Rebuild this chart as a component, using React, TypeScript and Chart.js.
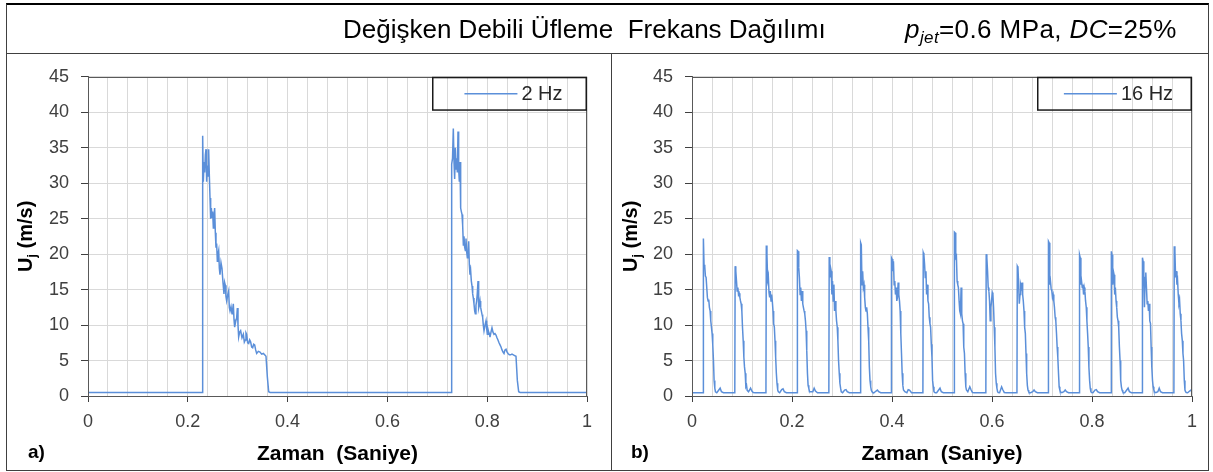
import React, { useEffect, useRef } from 'react';
import { Chart, registerables } from 'chart.js';

Chart.register(...registerables);

const FONT = "'Liberation Sans', Arial, Helvetica, sans-serif";
const LINE_COLOR = '#5B8FD9';

// ---------- 2 Hz panel data (time in s, velocity in m/s) ----------
const time2Hz: number[] = [
  0, 0.2285,
  0.2298, 0.2311, 0.2325, 0.2338, 0.2352, 0.2365, 0.2378, 0.2392, 0.2405, 0.2418,
  0.2432, 0.2445, 0.2458, 0.2472, 0.2485, 0.2498, 0.2512, 0.2525, 0.2538, 0.2552,
  0.2565, 0.2578, 0.2592, 0.2605, 0.2619, 0.2632, 0.2645, 0.2665, 0.2685, 0.2705,
  0.2725, 0.2738, 0.2752, 0.2765, 0.2779, 0.2799, 0.2819, 0.2832, 0.2846, 0.2866,
  0.2886, 0.2899, 0.2912, 0.2926, 0.2939, 0.2959, 0.2979, 0.2993, 0.3006, 0.3019,
  0.3039, 0.3059, 0.3086, 0.3113, 0.3133, 0.3153, 0.3166, 0.3179, 0.32, 0.322,
  0.324, 0.326, 0.328, 0.33, 0.332, 0.334, 0.336, 0.338, 0.3414, 0.3447,
  0.348, 0.3514, 0.354, 0.3567, 0.3594, 0.3621, 0.365,
  0.7275,
  0.7288, 0.7305, 0.7321, 0.7335, 0.7348, 0.7361, 0.7375, 0.7388, 0.7401, 0.7415,
  0.7428, 0.7442, 0.7455, 0.7468, 0.7482, 0.7495, 0.7508, 0.7522, 0.7535, 0.7548,
  0.7562, 0.7575, 0.7589, 0.7602, 0.7615, 0.7629, 0.7642, 0.7655, 0.7669, 0.7682,
  0.7696, 0.7709, 0.7722, 0.7735, 0.7749, 0.7762, 0.7775, 0.7789, 0.7802, 0.7816,
  0.7829, 0.7842, 0.7856, 0.7869, 0.7882, 0.7896, 0.7909, 0.7922, 0.7936, 0.7956,
  0.7976, 0.7989, 0.8003, 0.8016, 0.8029, 0.8043, 0.8056, 0.8076, 0.8096, 0.8116,
  0.8136, 0.8156, 0.8176, 0.8196, 0.8216, 0.8237, 0.8257, 0.8277, 0.8297, 0.8317,
  0.8337, 0.8357, 0.8377, 0.8397, 0.8417, 0.8444, 0.847, 0.8497, 0.8524, 0.855,
  0.8577, 0.8604, 0.8631, 0.866,
  1,
];
const u2Hz: number[] = [
  0.5, 0.5,
  36.7, 30.2, 33.0, 31.5, 34.0, 34.8, 30.2, 32.5, 31.0, 34.8,
  31.0, 27.9, 25.0, 26.5, 25.2, 26.0, 23.7, 25.2, 26.5, 23.0,
  20.9, 21.5, 19.0, 20.0, 20.5, 18.0, 17.1, 18.8, 18.0, 16.0,
  14.4, 16.0, 15.6, 14.0, 13.4, 14.2, 14.8, 12.5, 12.0, 12.6,
  11.6, 12.2, 13.0, 10.8, 9.7, 10.5, 11.0, 12.4, 10.0, 8.3,
  9.0, 9.2, 8.2, 8.7, 7.6, 7.9, 8.9, 8.7, 7.5, 7.4,
  7.9, 7.6, 6.9, 6.8, 7.3, 7.2, 6.5, 6.0, 6.3, 6.2,
  5.9, 6.0, 5.8, 5.6, 2.7, 0.6, 0.5,
  0.5,
  32.7, 33.5, 37.7, 33.0, 30.6, 35.0, 32.0, 33.5, 31.5, 37.3,
  32.0, 30.2, 33.0, 26.5, 26.0, 25.6, 24.1, 21.3, 22.5, 21.0,
  20.5, 22.2, 20.3, 19.5, 20.0, 21.8, 18.5, 17.1, 17.6, 16.2,
  15.5, 14.4, 13.8, 13.0, 12.0, 11.6, 12.8, 13.4, 14.5, 16.2,
  12.4, 12.8, 13.4, 12.5, 12.0, 11.5, 11.1, 10.0, 9.2, 10.0,
  10.6, 9.5, 8.7, 9.4, 9.0, 8.8, 8.3, 9.0, 9.6, 9.0,
  8.7, 8.8, 8.6, 8.2, 7.9, 7.5, 7.2, 6.9, 6.5, 6.2,
  6.0, 6.5, 6.6, 6.2, 6.0, 5.8, 5.8, 5.9, 5.8, 5.7,
  5.6, 2.2, 0.6, 0.5,
  0.5,
];

// ---------- 16 Hz panel data ----------
const start16Hz = { t: 0, u: 0.46 };
const pulseStarts16Hz: number[] = [
  0.0228, 0.0863, 0.1486, 0.2108, 0.2744, 0.3373, 0.3989, 0.4625,
  0.5248, 0.5884, 0.6506, 0.7129, 0.7751, 0.8387, 0.9009, 0.9645,
];
// sample times inside each pulse, relative to the pulse start (s)
const pulseOffsets16Hz: number[] = [
  -0.0007, 0, 0.0013, 0.0027, 0.004, 0.0054, 0.0067, 0.008, 0.0094, 0.0107,
  0.012, 0.0134, 0.0147, 0.0161, 0.0174, 0.0187, 0.0201, 0.0214, 0.0228, 0.0241,
  0.0268, 0.0308, 0.0335, 0.0361, 0.0402,
];
const pulseValues16Hz: number[][] = [
  [0.46, 22.2, 18.5, 18.3, 16.9, 16.7, 16.7, 13.9, 13.4, 13.6, 12.5, 12.0, 10.6, 9.7, 8.8, 7.3, 5.0, 2.2, 1.1, 0.6, 0.46, 0.84, 1.1, 0.6, 0.46],
  [0.46, 18.3, 17.6, 16.2, 14.8, 15.3, 14.3, 14.5, 13.9, 13.4, 13.0, 12.0, 9.7, 7.8, 5.5, 4.1, 3.2, 1.3, 1.5, 0.8, 0.6, 1.1, 0.7, 0.5, 0.46],
  [0.46, 21.2, 19.9, 16.4, 16.9, 14.6, 13.9, 14.8, 13.4, 14.3, 13.4, 12.0, 10.2, 9.7, 7.8, 5.5, 3.2, 1.8, 0.84, 0.6, 0.46, 0.9, 1.0, 0.6, 0.46],
  [0.46, 20.5, 20.4, 18.1, 16.7, 14.3, 15.3, 13.4, 14.8, 13.0, 12.5, 12.0, 11.6, 10.6, 9.2, 6.4, 3.2, 1.5, 1.1, 0.6, 0.6, 0.6, 1.1, 0.7, 0.46],
  [0.46, 19.6, 16.7, 18.1, 17.6, 14.3, 16.2, 13.4, 15.7, 12.0, 13.4, 12.0, 10.6, 9.7, 7.8, 5.0, 3.2, 1.8, 1.1, 0.6, 0.46, 0.84, 0.9, 0.6, 0.46],
  [0.46, 21.6, 21.3, 15.7, 17.6, 15.3, 15.7, 13.9, 12.5, 12.0, 12.5, 11.6, 9.7, 7.8, 4.1, 2.2, 1.3, 0.8, 0.6, 0.5, 0.46, 0.7, 0.84, 0.6, 0.46],
  [0.46, 19.5, 19.3, 17.6, 19.0, 15.7, 16.2, 14.3, 15.3, 13.4, 13.9, 16.0, 14.3, 13.4, 12.0, 8.8, 6.0, 3.2, 1.5, 0.84, 0.6, 0.46, 0.9, 0.84, 0.46],
  [0.46, 20.2, 19.9, 18.5, 16.7, 17.6, 14.3, 15.7, 13.4, 13.0, 11.1, 10.2, 9.7, 7.3, 5.5, 2.2, 1.3, 0.6, 0.5, 0.46, 0.46, 0.84, 1.1, 0.6, 0.46],
  [0.46, 23.1, 23.0, 19.5, 19.7, 16.2, 15.7, 15.3, 13.4, 12.0, 11.6, 15.3, 11.6, 10.6, 10.2, 6.9, 6.0, 3.2, 1.3, 0.84, 0.6, 1.3, 0.84, 0.5, 0.46],
  [0.46, 20.0, 19.5, 17.6, 15.3, 14.8, 13.4, 10.6, 12.5, 13.4, 14.6, 14.3, 12.5, 9.7, 6.9, 3.2, 1.8, 1.1, 0.6, 0.5, 0.46, 1.3, 0.84, 0.5, 0.46],
  [0.46, 18.3, 18.1, 15.7, 13.0, 14.3, 15.7, 15.3, 16.0, 14.3, 13.4, 12.0, 9.7, 8.8, 6.0, 3.2, 1.5, 0.84, 0.6, 0.5, 0.46, 0.6, 0.84, 0.6, 0.46],
  [0.46, 21.8, 21.6, 15.7, 16.2, 15.1, 14.8, 13.9, 14.3, 13.4, 12.5, 11.1, 10.6, 8.8, 6.9, 5.5, 3.2, 1.3, 0.84, 0.6, 0.46, 0.6, 0.84, 0.6, 0.46],
  [0.46, 19.9, 19.5, 15.7, 16.2, 15.3, 15.7, 14.3, 15.3, 14.8, 13.4, 12.5, 10.6, 8.8, 6.9, 4.1, 2.2, 1.1, 0.6, 0.5, 0.46, 0.84, 0.9, 0.6, 0.46],
  [0.46, 20.4, 19.9, 15.7, 17.6, 17.1, 14.3, 15.3, 13.4, 12.5, 11.1, 10.6, 9.7, 6.9, 5.0, 2.2, 1.3, 0.84, 0.6, 0.5, 0.46, 0.84, 1.1, 0.6, 0.46],
  [0.46, 19.5, 19.0, 16.7, 12.5, 16.7, 17.4, 15.3, 13.0, 13.4, 12.0, 13.0, 10.6, 10.2, 6.9, 4.1, 2.2, 1.3, 0.84, 0.6, 0.46, 0.6, 1.1, 0.6, 0.46],
  [0.46, 21.1, 20.4, 16.7, 17.6, 15.7, 16.2, 14.3, 13.0, 13.4, 11.6, 10.6, 8.8, 7.8, 6.0, 5.0, 2.2, 0.84, 0.6, 0.5, 0.46, 0.7, 0.84, 0.6, 0.46],
];

// ---------- axis / label settings ----------
const xMin = 0;
const xMax = 1;
const xGridStep = 0.04;
const xLabelEvery = 5; // label every 0.2
const yMin = 0;
const yMax = 45;
const yStep = 5;
const seriesLabels = ['2 Hz', '16 Hz'];
const xTitle = 'Zaman  (Saniye)';
const panelTags = ['a)', 'b)'];

type Pt = { x: number; y: number };

function points2Hz(): Pt[] {
  return time2Hz.map((t, i) => ({ x: t, y: u2Hz[i] }));
}

function points16Hz(): Pt[] {
  const pts: Pt[] = [{ x: start16Hz.t, y: start16Hz.u }];
  pulseStarts16Hz.forEach((t0, p) => {
    const vals = pulseValues16Hz[p];
    pulseOffsets16Hz.forEach((dt, j) => {
      if (j < vals.length) pts.push({ x: +(t0 + dt).toFixed(4), y: vals[j] });
    });
  });
  return pts;
}

const decorPlugin = {
  id: 'decor',
  afterDatasetsDraw(chart: any) {
    const { ctx, chartArea } = chart;
    const { left, right, top, bottom } = chartArea;
    ctx.save();
    // plot area frame
    ctx.strokeStyle = '#595959';
    ctx.lineWidth = 1;
    ctx.strokeRect(Math.round(left) + 0.5, Math.round(top) + 0.5, Math.round(right - left) - 1, Math.round(bottom - top));
    // legend box
    const ds = chart.data.datasets[0];
    const bw = 155;
    const bh = 34;
    const bx = right - bw;
    const by = top;
    ctx.strokeStyle = '#1a1a1a';
    ctx.lineWidth = 1.5;
    ctx.strokeRect(bx + 0.75, by + 0.75, bw - 1.5, bh - 1.5);
    ctx.font = `20px ${FONT}`;
    const tw = ctx.measureText(ds.label).width;
    const lineLen = 53;
    const gap = 4;
    const content = lineLen + gap + tw;
    const cx = bx + bw / 2 + 4;
    const x0 = cx - content / 2;
    const cy = by + bh / 2;
    ctx.strokeStyle = ds.borderColor;
    ctx.lineWidth = 1.5;
    ctx.beginPath();
    ctx.moveTo(x0, cy);
    ctx.lineTo(x0 + lineLen, cy);
    ctx.stroke();
    ctx.fillStyle = '#262626';
    ctx.textBaseline = 'middle';
    ctx.textAlign = 'left';
    ctx.fillText(ds.label, x0 + lineLen + gap, cy + 1);
    ctx.restore();
  },
  afterDraw(chart: any, _args: any, opts: any) {
    const { ctx, chartArea } = chart;
    const cy = (chartArea.top + chartArea.bottom) / 2;
    ctx.save();
    ctx.translate(opts.titleX, cy);
    ctx.rotate(-Math.PI / 2);
    const big = `bold 20px ${FONT}`;
    const small = `bold 13px ${FONT}`;
    ctx.font = big;
    const wU = ctx.measureText('U').width;
    const wRest = ctx.measureText(' (m/s)').width;
    ctx.font = small;
    const wj = ctx.measureText('j').width;
    let x = -(wU + wj + wRest) / 2;
    ctx.fillStyle = '#000';
    ctx.textBaseline = 'alphabetic';
    ctx.textAlign = 'left';
    ctx.font = big;
    ctx.fillText('U', x, 7);
    x += wU;
    ctx.font = small;
    ctx.fillText('j', x, 11);
    x += wj;
    ctx.font = big;
    ctx.fillText(' (m/s)', x, 7);
    ctx.restore();
  },
};

type PanelProps = {
  points: Pt[];
  label: string;
  left: number;
  top: number;
  width: number;
  height: number;
  plotLeft: number;
  plotRight: number;
  plotTop: number;
  plotBottom: number;
  titleX: number;
};

function Panel(p: PanelProps) {
  const ref = useRef<HTMLCanvasElement>(null);
  useEffect(() => {
    const tickFont = { family: FONT, size: 18 };
    const chart = new Chart(ref.current as HTMLCanvasElement, {
      type: 'line',
      data: {
        datasets: [
          {
            label: p.label,
            data: p.points,
            borderColor: LINE_COLOR,
            borderWidth: 1.5,
            pointRadius: 0,
            fill: false,
            tension: 0,
          },
        ],
      },
      options: {
        animation: false,
        responsive: false,
        events: [],
        layout: { padding: { left: 0, top: p.plotTop, right: p.width - p.plotRight, bottom: 0 } },
        plugins: {
          legend: { display: false },
          tooltip: { enabled: false },
          decor: { titleX: p.titleX },
        } as any,
        scales: {
          x: {
            type: 'linear',
            min: xMin,
            max: xMax,
            afterFit: (s: any) => {
              s.height = p.height - p.plotBottom;
            },
            ticks: {
              stepSize: xGridStep,
              maxTicksLimit: 100,
              autoSkip: false,
              maxRotation: 0,
              minRotation: 0,
              padding: 9,
              font: tickFont,
              color: '#404040',
              callback: (v: any, i: number) => (i % xLabelEvery === 0 ? String(+Number(v).toFixed(1)) : ''),
            },
            grid: {
              color: '#D9D9D9',
              lineWidth: 1,
              tickLength: 6,
              tickColor: (c: any) => (c.index % xLabelEvery === 0 ? '#404040' : 'rgba(0,0,0,0)'),
            },
            border: { display: true, color: '#595959', width: 1 },
            title: {
              display: true,
              text: xTitle,
              color: '#000',
              font: { family: FONT, size: 21, weight: 'bold' },
              padding: { top: 0, bottom: 3 },
            },
          },
          y: {
            type: 'linear',
            min: yMin,
            max: yMax,
            afterFit: (s: any) => {
              s.width = p.plotLeft;
            },
            ticks: {
              stepSize: yStep,
              padding: 12,
              font: tickFont,
              color: '#404040',
            },
            grid: { color: '#D9D9D9', lineWidth: 1, tickLength: 7, tickColor: '#404040' },
            border: { display: true, color: '#595959', width: 1 },
          },
        },
      } as any,
      plugins: [decorPlugin as any],
    });
    return () => chart.destroy();
  }, []);
  return (
    <canvas
      ref={ref}
      width={p.width}
      height={p.height}
      style={{ position: 'absolute', left: p.left, top: p.top, width: p.width, height: p.height }}
    />
  );
}

export default function App() {
  const lineCol = '#404040';
  return (
    <div style={{ position: 'absolute', left: 0, top: 0, width: 1213, height: 472, background: '#fff', fontFamily: FONT }}>
      <Panel points={points2Hz()} label={seriesLabels[0]} left={7} top={54} width={604} height={416}
        plotLeft={81} plotRight={580} plotTop={20} plotBottom={342} titleX={18} />
      <Panel points={points16Hz()} label={seriesLabels[1]} left={612} top={54} width={596} height={416}
        plotLeft={80} plotRight={580} plotTop={20} plotBottom={342} titleX={18} />
      {/* frame */}
      <div style={{ position: 'absolute', left: 6, top: 3, width: 1203, height: 468, boxSizing: 'border-box',
        border: `1px solid ${lineCol}`, borderTop: '2px solid #000' }} />
      <div style={{ position: 'absolute', left: 6, top: 53, width: 1203, height: 1, background: lineCol }} />
      <div style={{ position: 'absolute', left: 611, top: 53, width: 1, height: 417, background: lineCol }} />
      {/* header */}
      <div style={{ position: 'absolute', left: 343, top: 16, fontSize: 26, lineHeight: '26px', color: '#000', whiteSpace: 'pre' }}>
        Değişken Debili Üfleme  Frekans Dağılımı
      </div>
      <div style={{ position: 'absolute', left: 905, top: 16, fontSize: 26, lineHeight: '26px', color: '#000', whiteSpace: 'pre', letterSpacing: '0.4px' }}>
        <i>p</i><sub style={{ fontSize: 17, verticalAlign: '-5px', fontStyle: 'italic', lineHeight: 0 }}>jet</sub>=0.6 MPa, <i>DC</i>=25%
      </div>
      {/* panel tags */}
      <div style={{ position: 'absolute', left: 28, top: 441, fontSize: 19, lineHeight: '22px', fontWeight: 'bold', color: '#000' }}>
        {panelTags[0]}
      </div>
      <div style={{ position: 'absolute', left: 631, top: 441, fontSize: 19, lineHeight: '22px', fontWeight: 'bold', color: '#000' }}>
        {panelTags[1]}
      </div>
    </div>
  );
}
